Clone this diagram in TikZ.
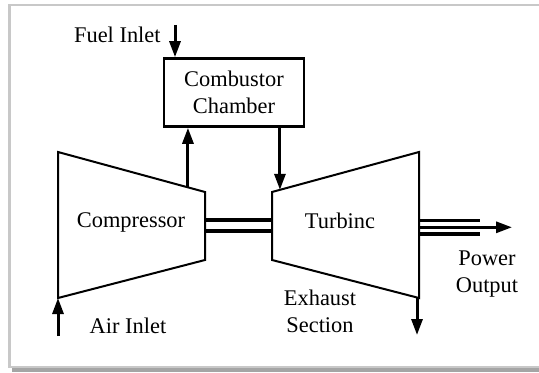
\documentclass[tikz,border=0pt]{standalone}
\usepackage{fontspec}
\setmainfont{Liberation Serif}
\usetikzlibrary{arrows.meta,positioning,calc}
\definecolor{gtframe}{RGB}{200,200,200}
\definecolor{gtshadow}{RGB}{165,165,165}
\tikzset{
  gtbox/.style={draw=black, line width=1.3pt, minimum width=70pt, minimum height=34pt,
    align=center, inner sep=0pt, font=\fontsize{11.2}{13.6}\selectfont},
  gtlabel/.style={align=center, inner sep=0pt, font=\fontsize{11.2}{13.6}\selectfont},
  gtbody/.style={draw=black, line width=1pt, line join=miter},
  flowarr/.style={-{Triangle[length=8pt,width=5.5pt]}, line width=1.5pt},
  shaftline/.style={line width=1.6pt}
}
\begin{document}
\begin{tikzpicture}[x=0.5pt,y=-0.5pt]
  \useasboundingbox (0,0) rectangle (539,373);
  % frame
  \fill[gtshadow] (12,367.5) rectangle (539,372);
  \draw[gtframe, line width=1.2pt] (539,5) -- (9.5,5) -- (9.5,367) -- (539,367);

  % compressor and turbine bodies
  \coordinate (c1) at (58,152);  \coordinate (c2) at (205,192);
  \coordinate (c3) at (205,260); \coordinate (c4) at (58,298);
  \coordinate (t1) at (272,192); \coordinate (t2) at (419,152);
  \coordinate (t3) at (419,298); \coordinate (t4) at (272,260);
  \draw[gtbody] (c1) -- (c2) -- (c3) -- (c4) -- cycle;
  \draw[gtbody] (t1) -- (t2) -- (t3) -- (t4) -- cycle;
  \node[gtlabel] (comp) at (131,222) {Compressor};
  \node[gtlabel] (turb) at (340,221) {Turbinc};

  % combustor
  \node[gtbox] (cc) at (234,92.5) {Combustor\\Chamber};
  \coordinate (compout) at ($(c1)!0.884!(c2)$);
  \coordinate (turbin) at ($(t1)!0.054!(t2)$);
  \draw[flowarr] (compout) -- (compout |- cc.south);
  \draw[flowarr] (cc.south -| turbin) -- (turbin);

  % shaft
  \draw[shaftline] ($(c2)!0.412!(c3)$) -- ($(t1)!0.412!(t4)$);
  \draw[shaftline] ($(c2)!0.574!(c3)$) -- ($(t1)!0.574!(t4)$);

  % fuel
  \coordinate (fuel) at (175,25);
  \draw[flowarr] (fuel) -- (fuel |- cc.north);
  \node[gtlabel, anchor=east] (fuellbl) at (161,35) {Fuel Inlet};

  % air
  \coordinate (air) at (58,336);
  \draw[flowarr] (air) -- (c4);
  \node[gtlabel] (airlbl) at (128,326) {Air Inlet};

  % exhaust
  \coordinate (exh) at (417,335);
  \draw[flowarr] ($(t3)+(-2,0)$) -- (exh);
  \node[gtlabel] (exhlbl) at (320,311.5) {Exhaust\\Section};

  % power output
  \coordinate (pwr) at (512,227.3);
  \draw[shaftline] (419,220.5) -- (480,220.5);
  \draw[shaftline] (419,234) -- (480,234);
  \draw[flowarr] (t2 |- pwr) -- (pwr);
  \node[gtlabel] (pwrlbl) at (487,274) {Power\\Output};
\end{tikzpicture}
\end{document}
